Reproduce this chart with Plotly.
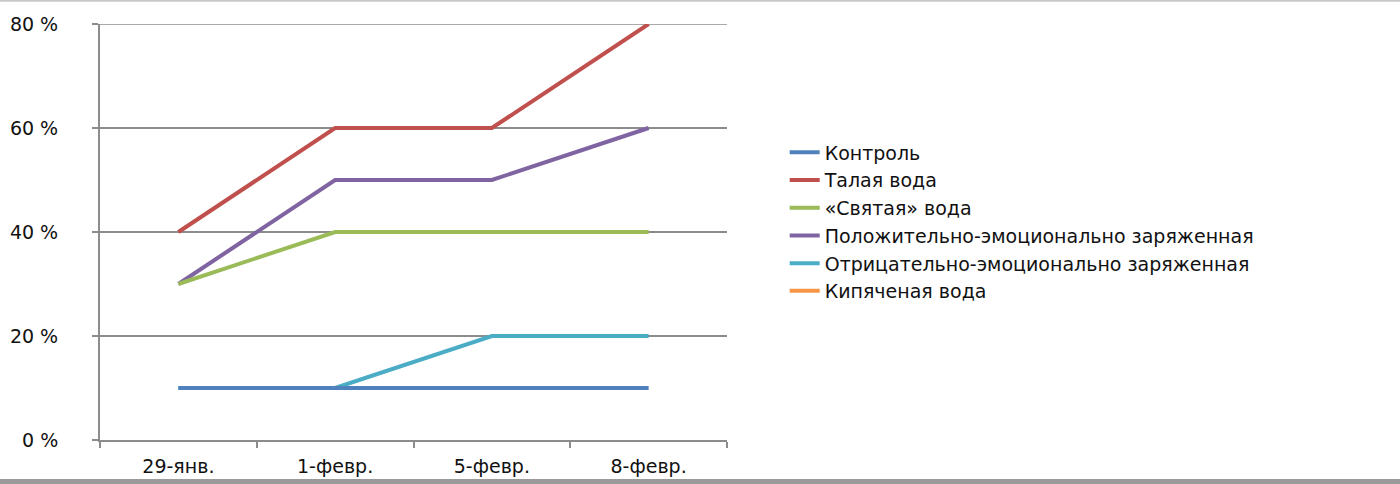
import plotly.graph_objects as go

# Observation dates (category axis)
dates = ["29-янв.", "1-февр.", "5-февр.", "8-февр."]

# Share of sprouted seeds, %
kontrol = [10, 10, 10, 10]
talaya = [40, 60, 60, 80]
svyataya = [30, 40, 40, 40]
polozhit = [30, 50, 50, 60]
otritsat = [10, 10, 20, 20]
kipyachenaya = [None, None, None, None]

# Value-axis ticks
y_ticks = [0, 20, 40, 60, 80]
y_tick_labels = [f"{v} %" for v in y_ticks]

series = [
    ("Контроль", kontrol, "#4F81BD"),
    ("Талая вода", talaya, "#C0504D"),
    ("«Святая» вода", svyataya, "#9BBB59"),
    ("Положительно-эмоционально заряженная", polozhit, "#8064A2"),
    ("Отрицательно-эмоционально заряженная", otritsat, "#4BACC6"),
    ("Кипяченая вода", kipyachenaya, "#F79646"),
]

fig = go.Figure()
# Added in reverse so the first series sits on top; legendrank keeps the order
for rank, (name, vals, color) in reversed(list(enumerate(series))):
    fig.add_trace(go.Scatter(
        x=dates, y=vals, name=name, mode="lines",
        line=dict(color=color, width=4),
        cliponaxis=False, legendrank=rank + 1,
    ))

font_family = "DejaVu Sans"
axis_grey = "#8C8C8C"

fig.update_layout(
    width=1400, height=484,
    margin=dict(l=100, r=673, t=24, b=44),
    paper_bgcolor="white", plot_bgcolor="white",
    font=dict(family=font_family, size=19, color="#111111"),
    showlegend=True,
    legend=dict(
        x=1.092, y=0.524, xanchor="left", yanchor="middle",
        font=dict(size=19, color="#111111"),
        tracegroupgap=0, itemwidth=30,
        bgcolor="rgba(0,0,0,0)",
    ),
    xaxis=dict(
        type="category", range=[-0.5, 3.5], automargin=False,
        showline=True, linecolor=axis_grey, linewidth=2,
        ticks="outside", tickson="boundaries", ticklen=6,
        tickcolor=axis_grey, tickwidth=2,
        showgrid=False, zeroline=False,
        tickfont=dict(size=19), ticklabelstandoff=8,
    ),
    yaxis=dict(
        range=[0, 80], tickmode="array", tickvals=y_ticks,
        ticktext=y_tick_labels, automargin=False,
        showline=True, linecolor=axis_grey, linewidth=2,
        ticks="outside", ticklen=6, tickcolor=axis_grey, tickwidth=2,
        showgrid=True, gridcolor=axis_grey, gridwidth=1.5,
        zeroline=False, ticklabelstandoff=30,
        tickfont=dict(size=19),
    ),
    shapes=[
        # top gridline (at the edge of the value range)
        dict(type="line", xref="x domain", yref="y",
             x0=-0.012, x1=1, y0=y_ticks[-1], y1=y_ticks[-1],
             layer="below", line=dict(color=axis_grey, width=1.5)),
        dict(type="line", xref="paper", yref="paper",
             x0=-0.2, x1=1.2 * 1400 / 627, y0=1.056, y1=1.056,
             line=dict(color="#C8C8C8", width=2)),
        dict(type="line", xref="paper", yref="paper",
             x0=-0.2, x1=1.2 * 1400 / 627, y0=-0.1, y1=-0.1,
             line=dict(color="#9A9A9A", width=5)),
    ],
)

fig.write_html("out.html")
